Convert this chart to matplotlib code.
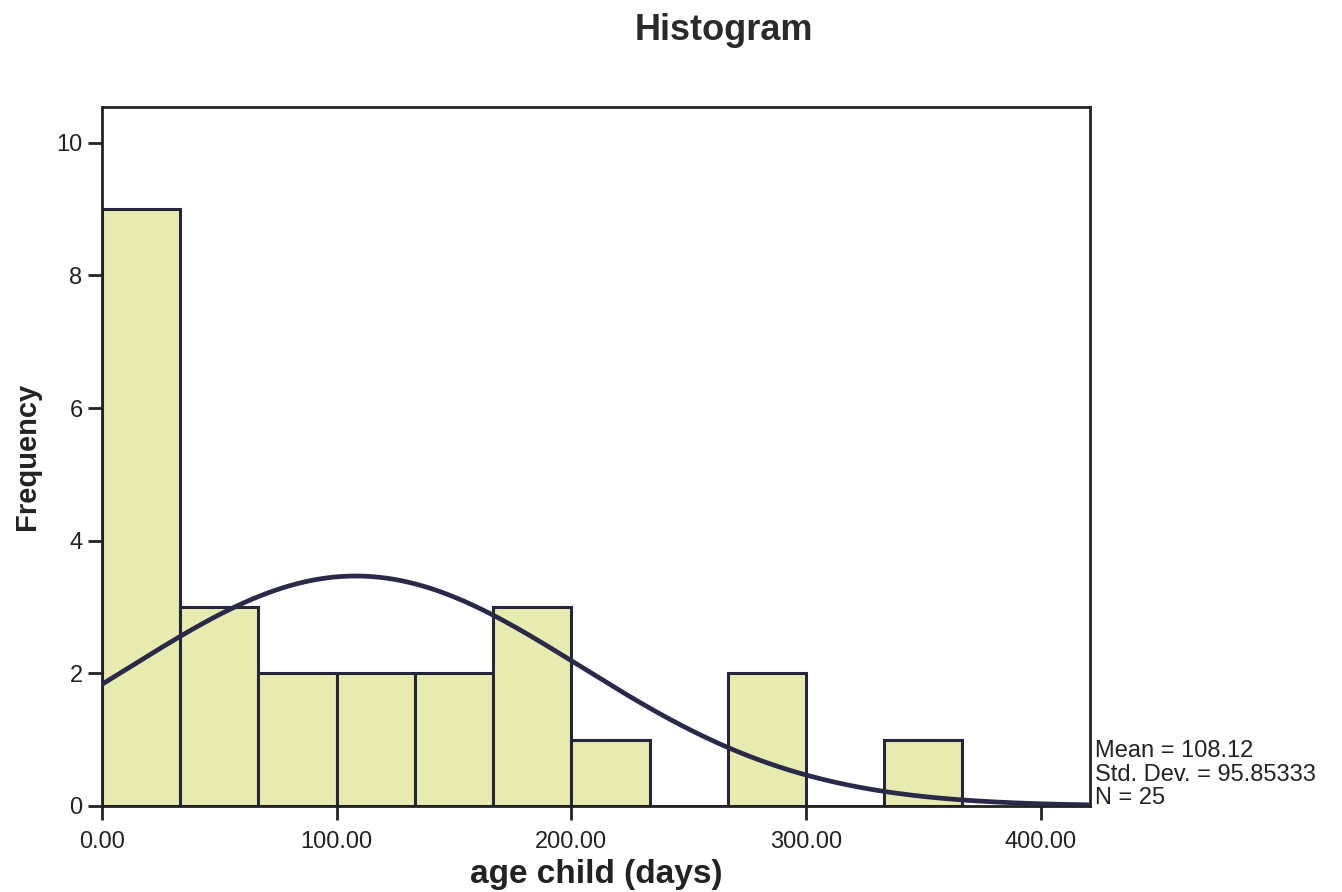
import numpy as np
import matplotlib
matplotlib.use("Agg")
import matplotlib.pyplot as plt

# histogram bins (days) and counts
bin_edges = [0, 33.33, 66.67, 100, 133.33, 166.67, 200, 233.33, 266.67, 300, 333.33, 366.67]
counts = [9, 3, 2, 2, 2, 3, 1, 0, 2, 0, 1]
x_ticks = [0, 100, 200, 300, 400]
x_tick_labels = ["0.00", "100.00", "200.00", "300.00", "400.00"]
y_ticks = [0, 2, 4, 6, 8, 10]

mean = 108.12
std = 95.85333
n = 25

plt.rcParams['font.family'] = ['Liberation Sans', 'DejaVu Sans']

fig = plt.figure(figsize=(13.42, 8.92), dpi=100)
ax = fig.add_axes([102 / 1342, 1 - 806 / 892, 988 / 1342, 699 / 892])

lefts = bin_edges[:-1]
widths = np.diff(bin_edges)
ax.bar(lefts, counts, width=widths, align="edge", color="#e8ebb0",
       edgecolor="#26263a", linewidth=2.2, zorder=2)

# fitted normal curve scaled to counts
bw = bin_edges[1] - bin_edges[0]
xs = np.linspace(0, 421, 400)
ys = n * bw / (std * np.sqrt(2 * np.pi)) * np.exp(-0.5 * ((xs - mean) / std) ** 2)
ax.plot(xs, ys, color="#2a2a48", linewidth=3.4, zorder=3)

ax.set_xlim(0, 421)
ax.set_ylim(0, 10.54)
ax.set_xticks(x_ticks)
ax.set_xticklabels(x_tick_labels)
ax.set_yticks(y_ticks)
ax.tick_params(axis="both", length=10, width=2, color="#222222",
               labelsize=17, labelcolor="#222222")
ax.tick_params(axis="x", pad=8)
ax.tick_params(axis="y", pad=4)
for s in ax.spines.values():
    s.set_linewidth(2)
    s.set_color("#222222")

ax.set_xlabel("age child (days)", fontsize=24, fontweight="bold",
              labelpad=4, color="#222222")
ax.set_ylabel("Frequency", fontsize=21, fontweight="bold", labelpad=11,
              color="#222222")
fig.text(724 / 1342, 1 - 30 / 892, "Histogram", ha="center", va="center",
         fontsize=26, fontweight="bold", color="#2a2a2a")

fig.text(1095 / 1342, 1 - 740 / 892,
         f"Mean = {mean}\nStd. Dev. = {std}\nN = {n}",
         ha="left", va="top", fontsize=17, linespacing=1.1, color="#222222")

fig.savefig("out.png", dpi=100, facecolor="white")
